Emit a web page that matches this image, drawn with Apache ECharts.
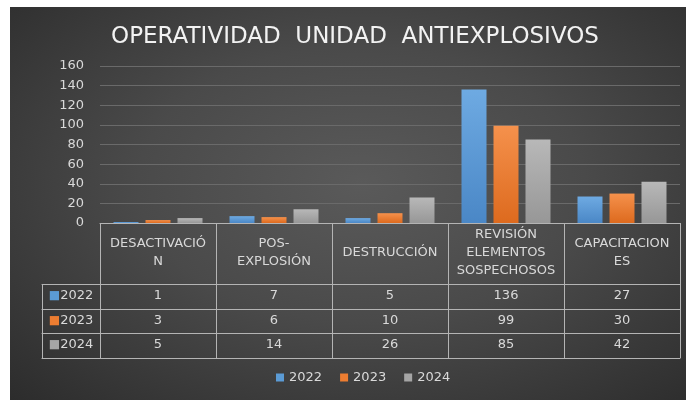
<!DOCTYPE html>
<html>
<head>
<meta charset="utf-8" />
<title>Operatividad Unidad Antiexplosivos</title>
<style type="text/css">
body{ margin:0; background:#fff; overflow:hidden; }
#chart{
  position:absolute; left:10px; top:7px; width:676px; height:393px;
  background: radial-gradient(ellipse at 52% 45%, #5a5a5a 0%, #4a4a4a 45%, #2c2c2c 100%);
}
</style>
</head>
<body>
<div id="chart"></div>
<script src="https://cdn.jsdelivr.net/npm/echarts@6/dist/echarts.min.js"></script>
<script type="text/javascript">
// datos
var categories = ['DESACTIVACIÓN', 'POS-EXPLOSIÓN', 'DESTRUCCIÓN', 'REVISIÓN ELEMENTOS SOSPECHOSOS', 'CAPACITACIONES'];
// como aparecen en la tabla (con cortes de linea)
var headerLabels = ['DESACTIVACIÓ\nN', 'POS-\nEXPLOSIÓN', 'DESTRUCCIÓN', 'REVISIÓN\nELEMENTOS\nSOSPECHOSOS', 'CAPACITACION\nES'];
var years = ['2022', '2023', '2024'];
var v2022 = [1, 7, 5, 136, 27];
var v2023 = [3, 6, 10, 99, 30];
var v2024 = [5, 14, 26, 85, 42];
var yTicks = [0, 20, 40, 60, 80, 100, 120, 140, 160];

var colors = ['#5b9bd5', '#ed7d31', '#a5a5a5'];
var barTop = ['#6eaae2', '#f5914c', '#b8b8b8'];
var barBottom = ['#4a87c6', '#dd6a1e', '#979797'];
var rows = [v2022, v2023, v2024];

var txt = '#d9d9d9';
var lineCol = '#b4b4b4';
var font = 'DejaVu Sans';

var myChart = echarts.init(document.getElementById('chart'));

// filas de la tabla: cada una es un eje x desplazado
var rowOffsets = [61, 86, 110, 135];
var xAxes = [{
  type: 'category', gridIndex: 0, position: 'bottom', data: categories,
  axisLine: { onZero: false, lineStyle: { color: lineCol, width: 1 } },
  axisTick: { show: true, length: 135, lineStyle: { color: lineCol } },
  axisLabel: {
    interval: 0, margin: 30, verticalAlign: 'middle', lineHeight: 18,
    color: txt, fontFamily: font, fontSize: 13,
    formatter: function (v, i) { return headerLabels[i]; }
  }
}];
rowOffsets.forEach(function (off, r) {
  xAxes.push({
    type: 'category', gridIndex: 0, position: 'bottom', offset: off, data: categories,
    axisLine: { onZero: false, lineStyle: { color: lineCol, width: 1 } },
    axisTick: { show: false },
    axisLabel: {
      show: r < 3, interval: 0, margin: 12, verticalAlign: 'middle',
      color: txt, fontFamily: font, fontSize: 13,
      formatter: function (v, i) { return r < 3 ? String(rows[r][i]) : ''; }
    }
  });
  // columna de la leyenda de la tabla
  xAxes.push({
    type: 'category', gridIndex: 1, position: 'bottom', offset: off, data: ['s'],
    axisLine: { onZero: false, lineStyle: { color: lineCol, width: 1 } },
    axisTick: { show: r === 0, length: 74, lineStyle: { color: lineCol } },
    axisLabel: {
      show: r < 3, interval: 0, margin: 12, verticalAlign: 'middle',
      color: txt, fontFamily: font, fontSize: 13,
      formatter: function () { return r < 3 ? '{sq|■}{t|' + years[r] + '}' : ''; },
      rich: {
        sq: { color: colors[Math.min(r, 2)], fontFamily: font, fontSize: 12, lineHeight: 16 },
        t: { color: txt, fontFamily: font, fontSize: 13, lineHeight: 16 }
      }
    }
  });
});

var series = years.map(function (y, k) {
  return {
    name: y, type: 'bar', xAxisIndex: 0, yAxisIndex: 0,
    data: rows[k], barWidth: 25, barGap: '28%',
    itemStyle: {
      color: new echarts.graphic.LinearGradient(0, 0, 0, 1, [
        { offset: 0, color: barTop[k] }, { offset: 1, color: barBottom[k] }
      ])
    }
  };
});

var option = {
  backgroundColor: 'transparent',
  animation: false,
  title: {
    text: 'OPERATIVIDAD  UNIDAD  ANTIEXPLOSIVOS',
    left: 345, textAlign: 'center', top: 19, padding: 0,
    textStyle: { color: '#f2f2f2', fontFamily: font, fontSize: 23, fontWeight: 'normal' }
  },
  legend: {
    data: years.map(function (y, k) { return { name: y, itemStyle: { color: colors[k] } }; }),
    left: 266, top: 364, padding: 0, itemWidth: 8, itemHeight: 8, itemGap: 18,
    icon: 'rect',
    textStyle: { color: txt, fontFamily: font, fontSize: 13 }
  },
  grid: [
    { left: 90, right: 6, top: 59, height: 157 },
    { left: 32, width: 58, top: 59, height: 157 }
  ],
  xAxis: xAxes,
  yAxis: [{
    type: 'value', gridIndex: 0, min: yTicks[0], max: yTicks[yTicks.length - 1], interval: 20,
    axisLine: { show: false }, axisTick: { show: false },
    axisLabel: { color: txt, fontFamily: font, fontSize: 13, margin: 16 },
    splitLine: { lineStyle: { color: '#6a6a6a', width: 1 } }
  }, {
    type: 'value', gridIndex: 1, show: false, min: 0, max: 160
  }],
  series: series
};

myChart.setOption(option);
</script>
</body>
</html>
